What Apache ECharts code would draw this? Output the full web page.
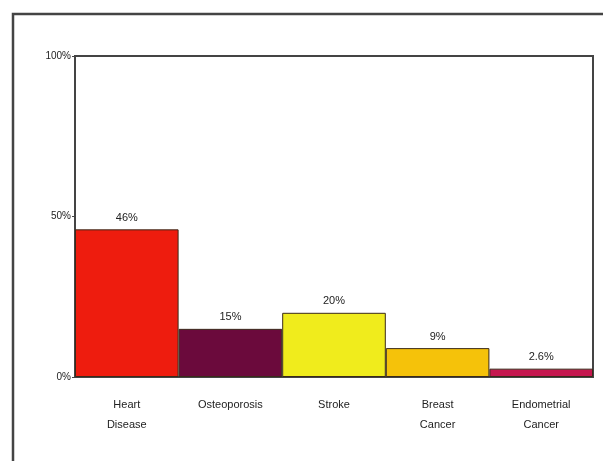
<!DOCTYPE html>
<html>
<head>
<meta charset="utf-8">
<script src="https://cdn.jsdelivr.net/npm/echarts@6/dist/echarts.min.js"></script>
<style>
  html, body { margin: 0; padding: 0; background: #fff; }
  #chart { width: 603px; height: 461px; }
</style>
</head>
<body>
<div id="chart"></div>
<script>
// data
const categories = ["Heart\nDisease", "Osteoporosis", "Stroke", "Breast\nCancer", "Endometrial\nCancer"];
const values = [46, 15, 20, 9, 2.6];
const valueLabels = ["46%", "15%", "20%", "9%", "2.6%"];
const barColors = ["#ee1c0e", "#6b0a3c", "#f0ec1c", "#f5c20a", "#c5174f"];
const yTicks = [0, 50, 100];

const chart = echarts.init(document.getElementById("chart"));

const option = {
  backgroundColor: "#fff",
  animation: false,
  graphic: [
    {
      type: "rect",
      shape: { x: 13, y: 14, width: 640, height: 480 },
      style: { fill: "none", stroke: "#444", lineWidth: 2.5 },
      silent: true,
    },
  ],
  grid: {
    left: 75,
    right: 10,
    top: 56,
    bottom: 84,
    show: true,
    borderColor: "#444",
    borderWidth: 2,
  },
  xAxis: {
    type: "category",
    data: categories,
    axisTick: { show: false },
    axisLine: { lineStyle: { color: "#444", width: 2 } },
    axisLabel: {
      color: "#222",
      fontSize: 11,
      fontFamily: "Liberation Sans, Arial",
      lineHeight: 20,
      margin: 18,
      interval: 0,
    },
  },
  yAxis: {
    type: "value",
    min: 0,
    max: 100,
    interval: 50,
    splitLine: { show: false },
    axisLine: { show: true, lineStyle: { color: "#444", width: 2 } },
    axisTick: { show: true, length: 3, lineStyle: { color: "#444" } },
    axisLabel: {
      color: "#222",
      fontSize: 10,
      fontFamily: "Liberation Sans, Arial",
      margin: 4,
      formatter: (v) => (yTicks.includes(v) ? v + "%" : ""),
    },
  },
  series: [
    {
      type: "bar",
      barWidth: "100%",
      barCategoryGap: 0,
      data: values.map((v, i) => ({
        value: v,
        itemStyle: { color: barColors[i], borderColor: "#3a2a1a", borderWidth: 1 },
        label: { formatter: valueLabels[i] },
      })),
      label: {
        show: true,
        position: "top",
        distance: 6,
        color: "#222",
        fontSize: 11,
        fontFamily: "Liberation Sans, Arial",
      },
    },
  ],
};

chart.setOption(option);
</script>
</body>
</html>
